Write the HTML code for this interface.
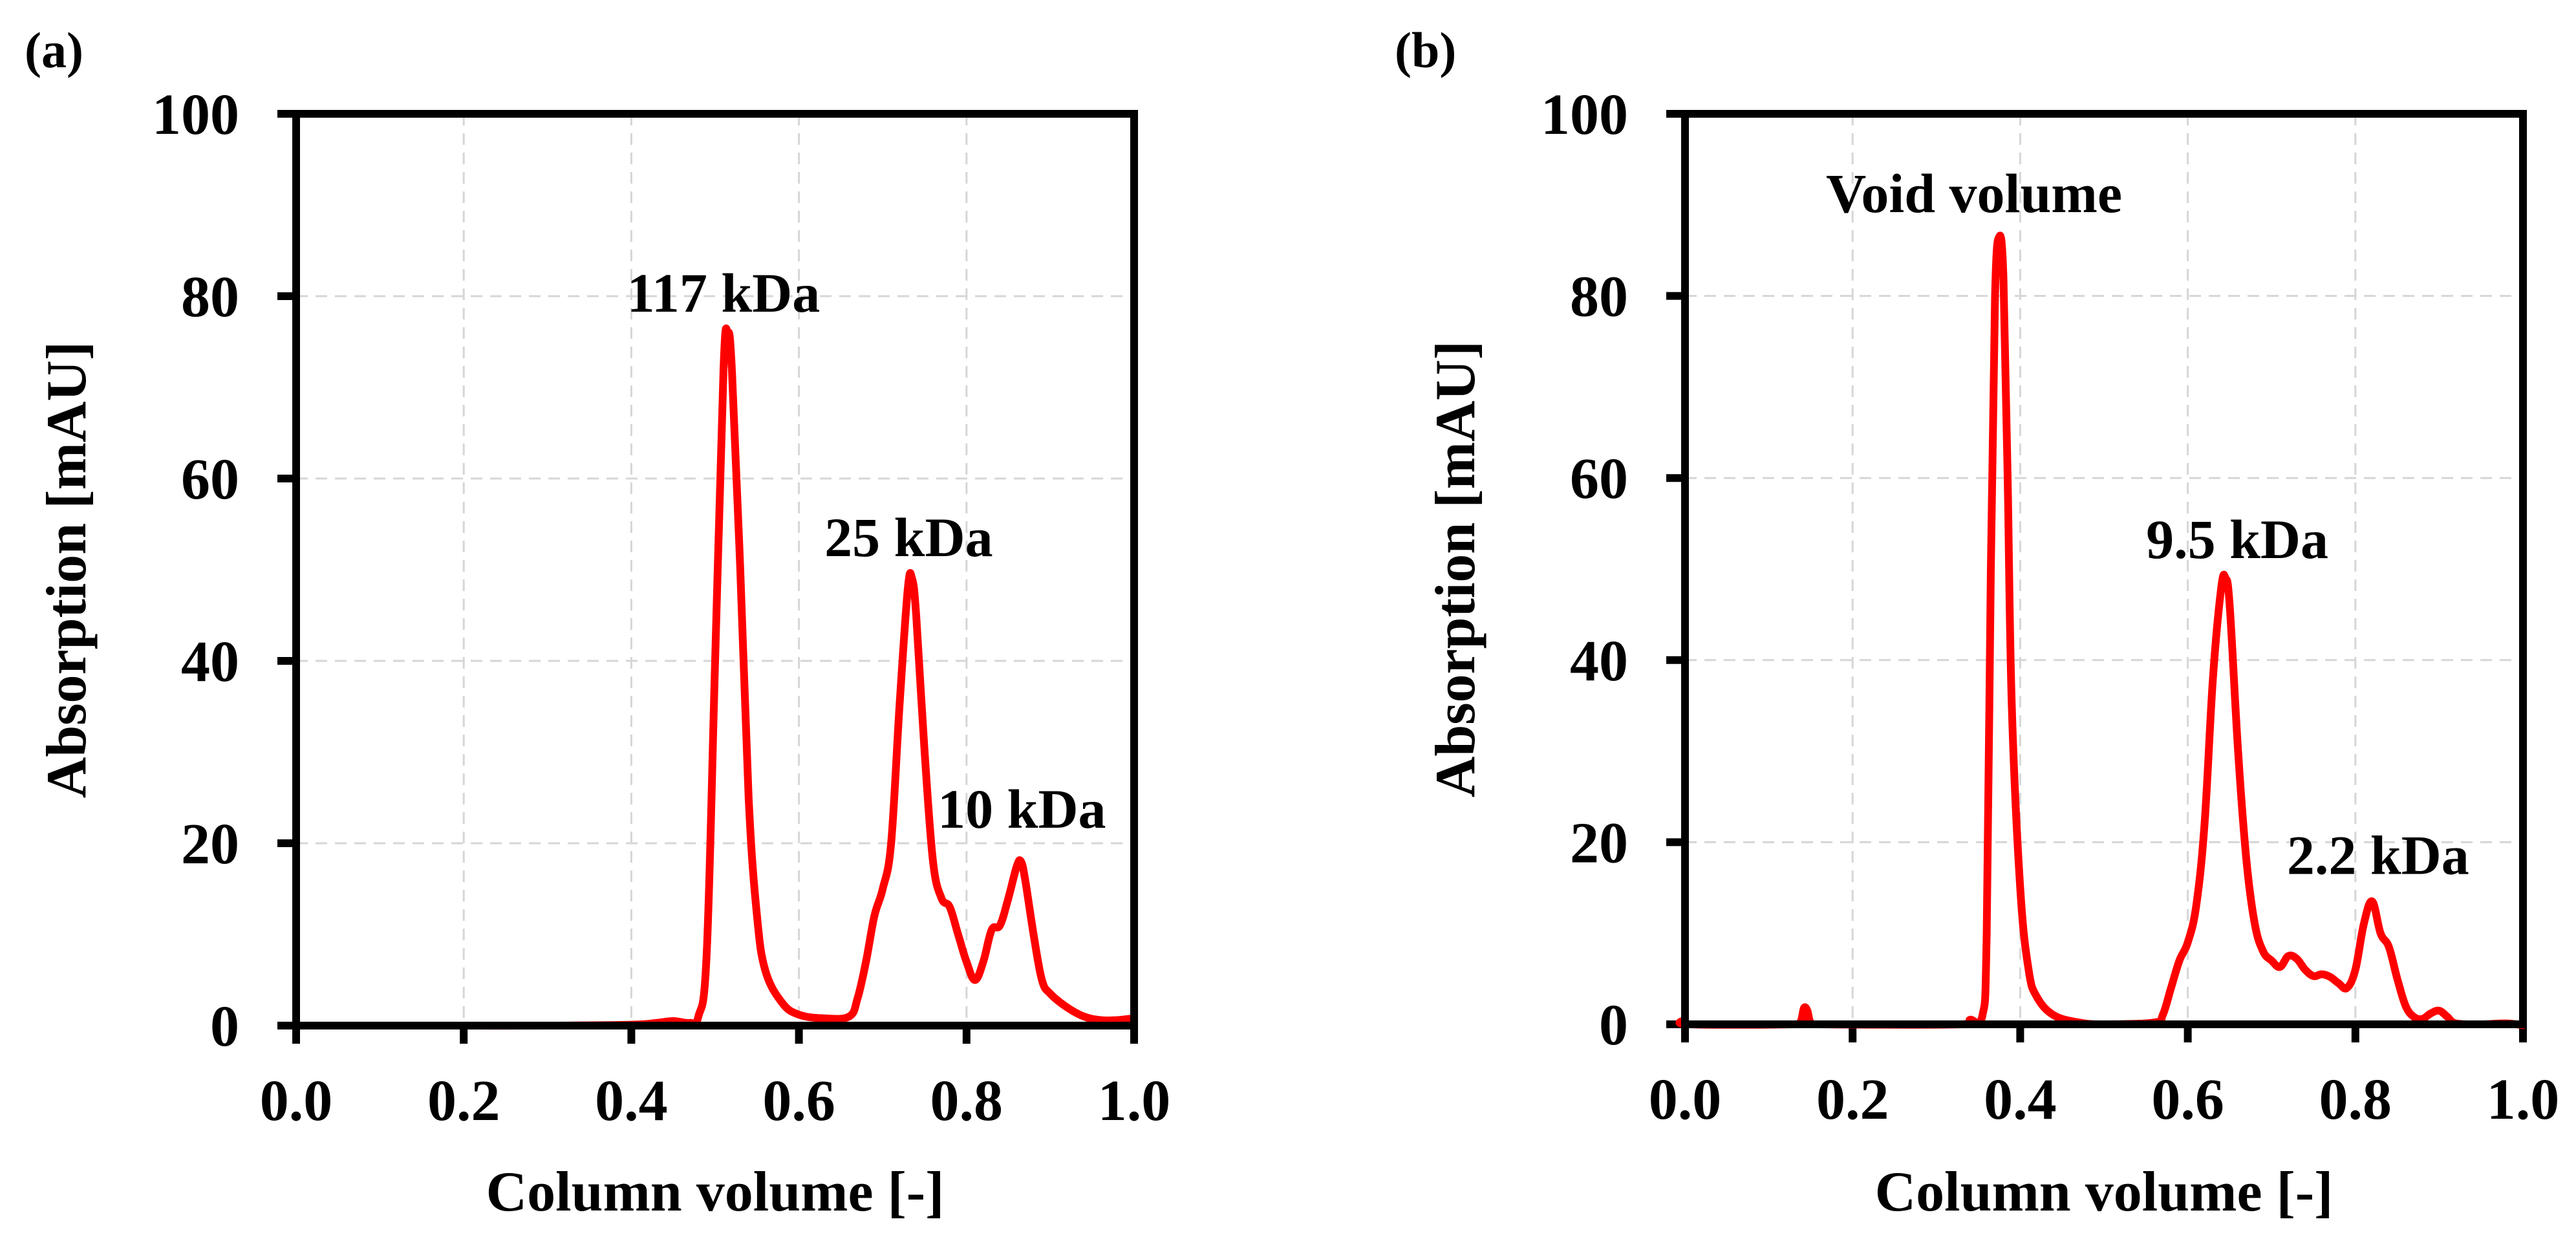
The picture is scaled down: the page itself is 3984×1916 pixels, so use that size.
<!DOCTYPE html>
<html><head><meta charset="utf-8"><style>
html,body{margin:0;padding:0;background:#fff;}
svg{display:block;}
text{font-family:"Liberation Serif",serif;font-weight:bold;fill:#000;}
</style></head><body>
<svg id="fig" width="3984" height="1916" viewBox="0 0 3984 1916" xmlns="http://www.w3.org/2000/svg"></svg>
<script>
const xTicks = [0, 0.2, 0.4, 0.6, 0.8, 1.0];
const xTickLabels = ["0.0", "0.2", "0.4", "0.6", "0.8", "1.0"];
const yTicks = [0, 20, 40, 60, 80, 100];
const yTickLabels = ["0", "20", "40", "60", "80", "100"];

const aX = [0,0.1,0.2,0.3,0.40,0.43,0.45,0.47,0.48,0.49,0.50,0.51,0.515,0.52,0.53,0.54,0.55,0.56,0.58,0.60,0.63,0.66,0.67,0.68,0.69,0.70,0.71,0.72,0.73,0.735,0.74,0.75,0.76,0.77,0.78,0.79,0.80,0.81,0.82,0.83,0.84,0.85,0.86,0.865,0.87,0.88,0.89,0.90,0.92,0.94,0.96,0.98,1.0];
const aY = [0,0,0,0,0.1,0.3,0.5,0.3,1,8,40,72,76,72,50,25,12,6,2.5,1.2,0.8,1,3,7,12,15,20,35,48,49,45,30,18,14,13,10,7,5,7,10.5,11,14,17.5,18,16,10,5,3.5,2,1,0.6,0.6,0.8];
const aLabels = ["117 kDa", "25 kDa", "10 kDa"];
const aLabelX = [0.51, 0.731, 0.866];
const aLabelY = [78.3, 51.5, 21.7];

const bX = [0,0.005,0.13,0.138,0.142,0.146,0.15,0.16,0.33,0.34,0.355,0.36,0.365,0.37,0.375,0.38,0.385,0.39,0.40,0.41,0.42,0.44,0.47,0.5,0.56,0.57,0.58,0.59,0.60,0.61,0.62,0.63,0.64,0.645,0.65,0.66,0.67,0.68,0.69,0.70,0.71,0.72,0.73,0.74,0.75,0.76,0.77,0.78,0.79,0.80,0.81,0.82,0.83,0.84,0.85,0.86,0.87,0.88,0.89,0.90,0.91,0.92,0.95,0.98,1.0];
const bY = [0.5,0,0,0.3,1.8,1.5,0.2,0,0,0.5,1,10,50,80,86.5,82,60,35,15,6,3,1,0.2,0,0.2,1,4,7,9,13,22,38,48,49,46,30,18,11,8,7,6.3,7.5,7.2,6,5.3,5.5,5.2,4.5,4,6,11,13.5,10,8.5,5,2,0.8,0.6,1.2,1.5,0.8,0.1,0,0.1,-0.1];
const bLabels = ["Void volume", "9.5 kDa", "2.2 kDa"];
const bLabelX = [0.345, 0.659, 0.827];
const bLabelY = [89.2, 51.2, 16.5];

const NS = "http://www.w3.org/2000/svg";
const svg = document.getElementById("fig");
function mk(tag, attrs, parent){
  const e = document.createElementNS(NS, tag);
  for (const k in attrs) e.setAttribute(k, attrs[k]);
  (parent||svg).appendChild(e);
  return e;
}
function smooth(pts){
  let d = "M" + pts[0][0].toFixed(1) + "," + pts[0][1].toFixed(1);
  for (let i = 0; i < pts.length - 1; i++){
    const p0 = pts[Math.max(0,i-1)], p1 = pts[i], p2 = pts[i+1], p3 = pts[Math.min(pts.length-1,i+2)];
    const t = 0.18;
    const c1 = [p1[0] + (p2[0]-p0[0])*t, p1[1] + (p2[1]-p0[1])*t];
    const c2 = [p2[0] - (p3[0]-p1[0])*t, p2[1] - (p3[1]-p1[1])*t];
    d += "C" + c1[0].toFixed(1)+","+c1[1].toFixed(1)+" "+c2[0].toFixed(1)+","+c2[1].toFixed(1)+" "+p2[0].toFixed(1)+","+p2[1].toFixed(1);
  }
  return d;
}
function panel(name, L, R, T, B, xs, ys, labels, lx, ly, tag, tagX){
  const g = mk("g", {});
  
  
  const sx = v => L + (R-L)*v;
  const sy = v => B - (B-T)*v/100;
  xTicks.forEach((v,i) => { if (i>0 && i<xTicks.length-1){
    const l = mk("line", {x1:sx(v), x2:sx(v), y1:T, y2:B, stroke:"#d6d6d6", "stroke-width":3, "stroke-dasharray":"18,12"}, g);
    
    
  }});
  yTicks.forEach((v,i) => { if (i>0 && i<yTicks.length-1){
    const l = mk("line", {x1:L, x2:R, y1:sy(v), y2:sy(v), stroke:"#d6d6d6", "stroke-width":3, "stroke-dasharray":"18,12"}, g);
    
    
  }});
  xTicks.forEach((v,i) => {
    const t = mk("line", {x1:sx(v), x2:sx(v), y1:B, y2:B+28, stroke:"#000", "stroke-width":12}, g);
    
    
    const tx = mk("text", {x:sx(v), y:B+146, "text-anchor":"middle", "font-size":90}, g);
    
    
    tx.textContent = xTickLabels[i];
  });
  yTicks.forEach((v,i) => {
    const t = mk("line", {x1:L-29, x2:L, y1:sy(v), y2:sy(v), stroke:"#000", "stroke-width":12}, g);
    
    
    const tx = mk("text", {x:L-88, y:sy(v)+31, "text-anchor":"end", "font-size":90}, g);
    
    
    tx.textContent = yTickLabels[i];
  });
  const pts = xs.map((v,i) => [sx(v), sy(ys[i])]);
  const p = mk("path", {d:smooth(pts), fill:"none", stroke:"#ff0000", "stroke-width":12, "stroke-linejoin":"round", "stroke-linecap":"round"}, g);
  
  
  const f = mk("rect", {x:L, y:T, width:R-L, height:B-T, fill:"none", stroke:"#000", "stroke-width":12}, g);
  
  
  labels.forEach((s,i) => {
    const a = mk("text", {x:sx(lx[i]), y:sy(ly[i]), "text-anchor":"middle", "font-size":86}, g);
    
    
    a.textContent = s;
  });
  const xt = mk("text", {x:(L+R)/2, y:1872, "text-anchor":"middle", "font-size":88}, g);
  
  
  xt.setAttribute('xml:space', 'preserve');
  xt.textContent = "Column volume  [-]";
  const yt = mk("text", {x:0, y:0, "text-anchor":"middle", "font-size":88, transform:"translate(" + (L-326) + "," + ((T+B)/2) + ") rotate(-90)"}, g);
  
  
  yt.textContent = "Absorption [mAU]";
  const pl = mk("text", {x:tagX, y:104, "font-size":78}, g);
  
  
  pl.textContent = tag;
}
panel("panel-a", 458, 1754, 176, 1586, aX, aY, aLabels, aLabelX, aLabelY, "(a)", 38);
panel("panel-b", 2606, 3902, 176, 1584, bX, bY, bLabels, bLabelX, bLabelY, "(b)", 2157);
</script>
</body></html>
